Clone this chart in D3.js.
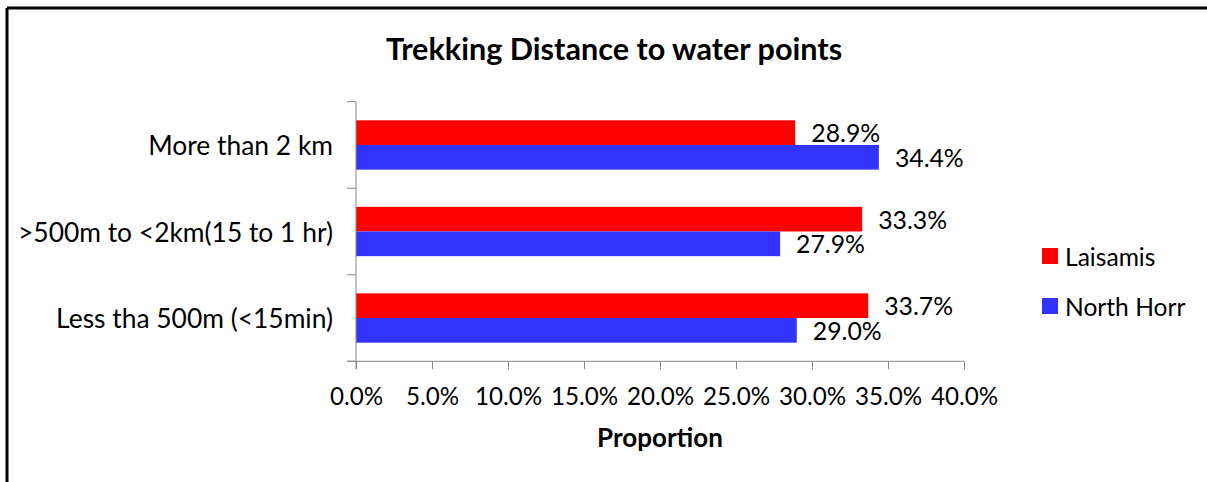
<!DOCTYPE html>
<html>
<head>
<meta charset="utf-8">
<script src="https://cdn.jsdelivr.net/npm/d3@7"></script>
<style>
  html, body { margin: 0; padding: 0; background: #fff; }
  svg { display: block; font-family: Lato, "Open Sans", sans-serif; }
</style>
</head>
<body>
<svg id="chart" width="1207" height="482"></svg>
<script>
const categories = ["More than 2 km", ">500m to <2km(15 to 1 hr)", "Less tha 500m (<15min)"];
const seriesNames = ["Laisamis", "North Horr"];
const laisamis = [28.9, 33.3, 33.7];
const northHorr = [34.4, 27.9, 29.0];
const xTicks = [0, 5, 10, 15, 20, 25, 30, 35, 40];
const colors = ["#FF0000", "#3333FF"];

const svg = d3.select("#chart");
const W = 1207, H = 482;
const plot = { left: 356, right: 964, top: 101.7, bottom: 361.3 };

// chart frame (left and top border)
svg.append("line").attr("x1", 7).attr("y1", 8).attr("x2", W).attr("y2", 8)
  .attr("stroke", "#000").attr("stroke-width", 3);
svg.append("line").attr("x1", 7).attr("y1", 8).attr("x2", 7).attr("y2", H)
  .attr("stroke", "#000").attr("stroke-width", 3);

const x = d3.scaleLinear().domain([0, 40]).range([plot.left, plot.right]);
const y = d3.scaleBand().domain(categories).range([plot.top, plot.bottom])
  .paddingInner(0.43).paddingOuter(0.215);
const ySub = d3.scaleBand().domain(seriesNames).range([0, y.bandwidth()]);

const data = categories.map((c, i) => ({ cat: c, vals: [laisamis[i], northHorr[i]] }));

// bars
const groups = svg.append("g").selectAll("g").data(data).join("g")
  .attr("transform", d => `translate(0,${y(d.cat)})`);
groups.selectAll("rect").data(d => d.vals.map((v, j) => ({ v, s: seriesNames[j], j })))
  .join("rect")
  .attr("x", x(0))
  .attr("y", d => ySub(d.s))
  .attr("width", d => x(d.v) - x(0))
  .attr("height", ySub.bandwidth())
  .attr("fill", d => colors[d.j]);
groups.selectAll("text").data(d => d.vals.map((v, j) => ({ v, s: seriesNames[j], j })))
  .join("text")
  .attr("x", d => x(d.v) + 16)
  .attr("y", d => ySub(d.s) + ySub.bandwidth() / 2)
  .attr("dominant-baseline", "central")
  .attr("font-size", 24.8)
  .attr("fill", "#000")
  .text(d => d.v.toFixed(1) + "%");

// x axis
const xAxis = d3.axisBottom(x).tickValues(xTicks).tickSize(8).tickSizeOuter(0)
  .tickFormat(d => d.toFixed(1) + "%");
const gx = svg.append("g").attr("transform", `translate(0,${plot.bottom})`).call(xAxis);
gx.select(".domain").attr("stroke", "#868686").attr("d", `M${plot.left - 9},0H${plot.right}`);
gx.selectAll(".tick line").attr("stroke", "#868686");
gx.selectAll(".tick text").attr("font-size", 24.2).attr("font-family", "Lato, sans-serif")
  .attr("fill", "#000").attr("dy", null).attr("y", 44);

// y axis
const gy = svg.append("g").attr("transform", `translate(${plot.left},0)`);
gy.append("line").attr("x1", 0).attr("x2", 0).attr("y1", plot.top).attr("y2", plot.bottom + 8)
  .attr("stroke", "#868686");
const step = y.step();
const bounds = d3.range(categories.length + 1).map(i => plot.top + i * step);
gy.selectAll("line.tk").data(bounds).join("line").attr("class", "tk")
  .attr("x1", -9).attr("x2", 0).attr("y1", d => d).attr("y2", d => d)
  .attr("stroke", "#868686");
gy.selectAll("text").data(categories).join("text")
  .attr("x", -23)
  .attr("y", d => y(d) + y.bandwidth() / 2)
  .attr("text-anchor", "end")
  .attr("dominant-baseline", "central")
  .attr("font-size", 26.4)
  .attr("fill", "#000")
  .text(d => d);

// title
svg.append("text").attr("x", 614).attr("y", 60).attr("text-anchor", "middle")
  .attr("font-size", 30.6).attr("font-weight", "bold").text("Trekking Distance to water points");

// axis title
svg.append("text").attr("x", (plot.left + plot.right) / 2).attr("y", 447).attr("text-anchor", "middle")
  .attr("font-size", 26).attr("font-weight", "bold").text("Proportion");

// legend
const leg = svg.append("g").selectAll("g").data(seriesNames).join("g")
  .attr("transform", (d, i) => `translate(1042,${248 + i * 50})`);
leg.append("rect").attr("width", 16).attr("height", 16).attr("fill", (d, i) => colors[i]);
leg.append("text").attr("x", 23).attr("y", 8).attr("dominant-baseline", "central")
  .attr("font-size", 24.6).text(d => d);
</script>
</body>
</html>
